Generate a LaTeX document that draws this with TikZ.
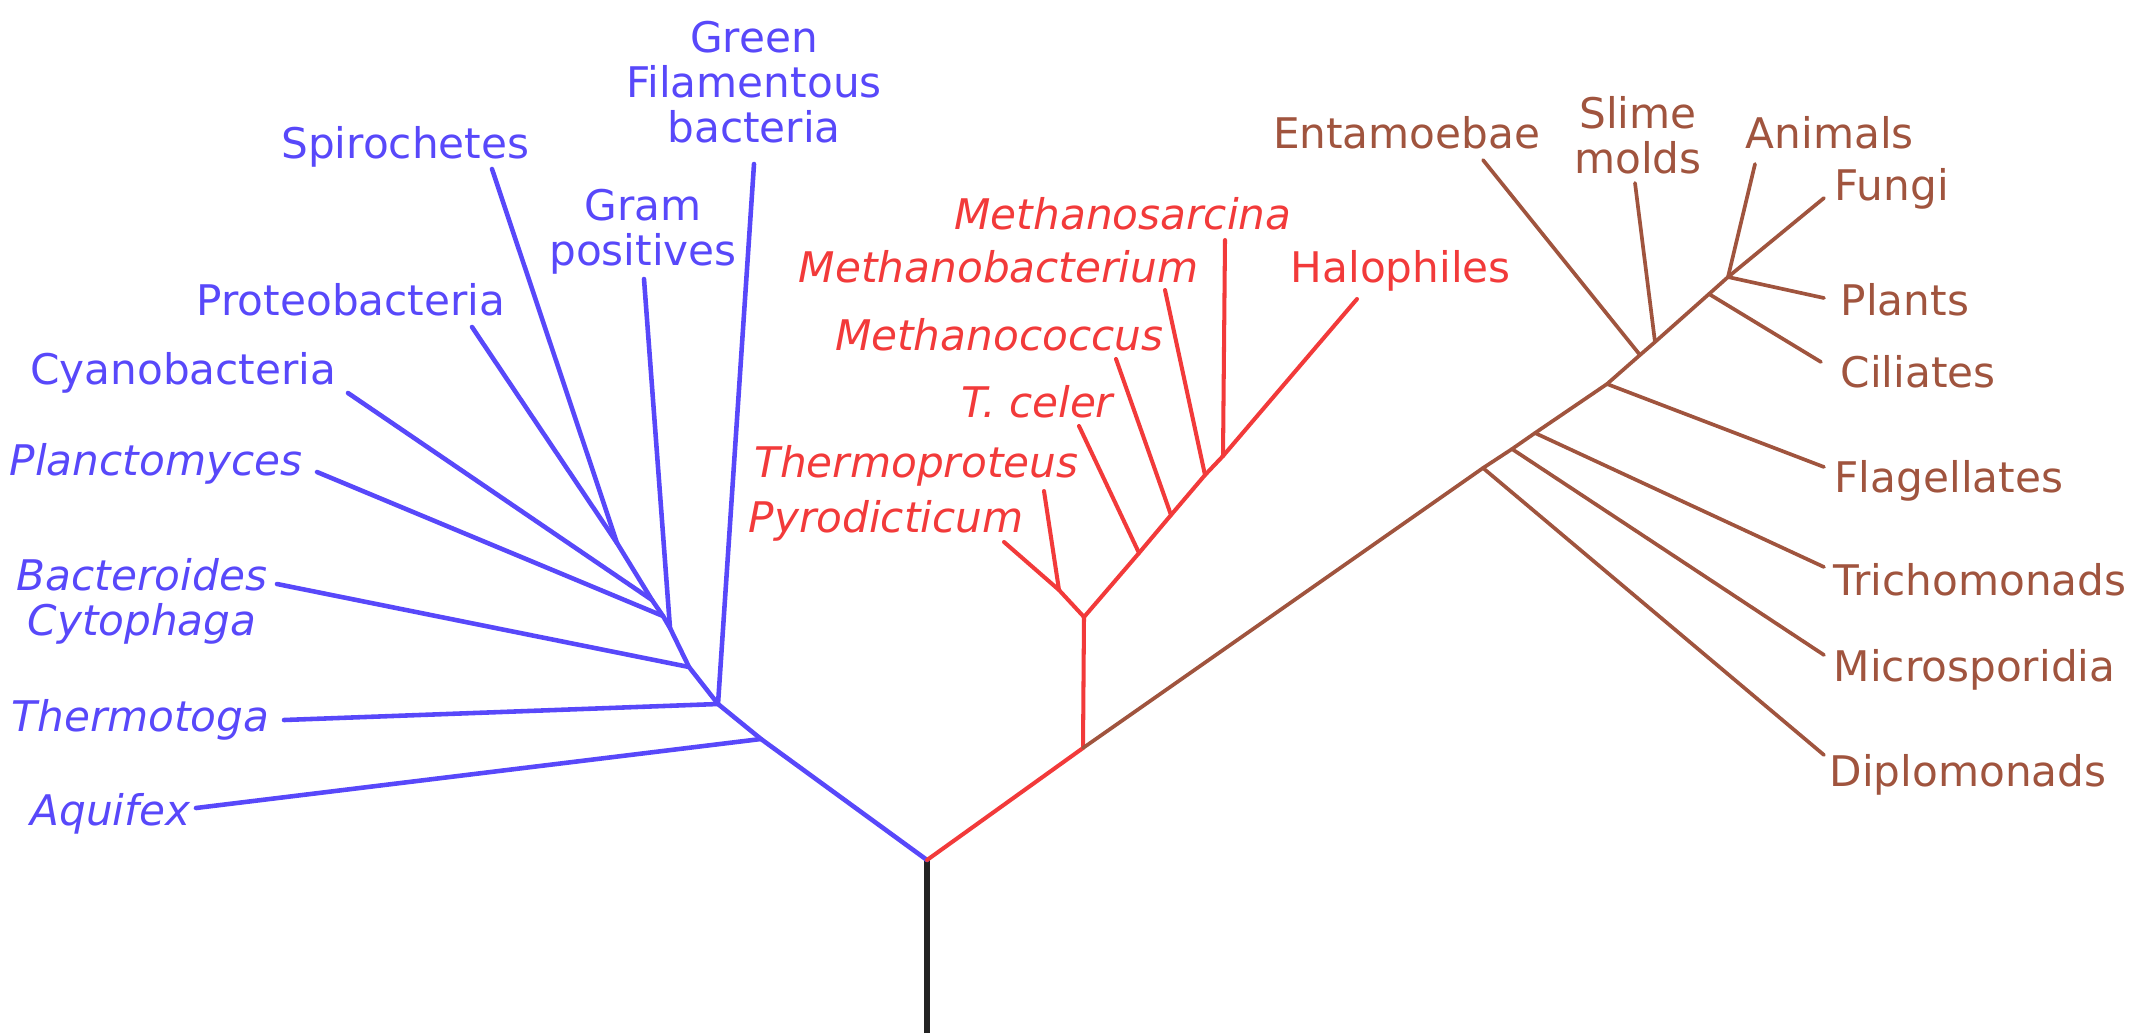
\documentclass[tikz,border=0pt]{standalone}
\usepackage{fontspec}
\setmainfont{DejaVu Sans}
\usepackage{tikz}
\usepackage{xcolor}
\definecolor{bactblue}{RGB}{88,72,250}
\definecolor{archred}{RGB}{242,58,58}
\definecolor{eukbrown}{RGB}{160,84,62}
\definecolor{rootgray}{RGB}{35,35,35}

\begin{document}
\begin{tikzpicture}[
  x=0.01cm, y=-0.01cm,
  taxon/.style={inner sep=0pt, align=center, font=\fontsize{12}{12.8}\selectfont},
  taxonit/.style={inner sep=0pt, align=center, font=\fontsize{12}{12.8}\selectfont\itshape},
  blab/.style={taxon, text=bactblue},
  blabit/.style={taxonit, text=bactblue},
  rlab/.style={taxon, text=archred},
  rlabit/.style={taxonit, text=archred},
  elab/.style={taxon, text=eukbrown},
  bact/.style={line width=1.3pt, bactblue, line cap=round, line join=round},
  arch/.style={line width=1.15pt, archred, line cap=round, line join=round},
  euk/.style={line width=1.05pt, eukbrown, line cap=round, line join=round},
  stem/.style={line width=1.5pt, rootgray}
]
\useasboundingbox (0,0) rectangle (2142,1033);

% Root
\coordinate (base) at (927,1033);
\coordinate (root) at (927,860);

% Bacteria junctions
\coordinate (bAq) at (761,739);
\coordinate (bTt) at (718,704);
\coordinate (bBc) at (689,667);
\coordinate (bGp) at (670,628);
\coordinate (bPl) at (663,616);
\coordinate (bCy) at (652,600);
\coordinate (bSP) at (617,543);

% Bacteria tips
\coordinate (tSpi) at (492,169);
\coordinate (tPro) at (472,327);
\coordinate (tCya) at (348,393);
\coordinate (tPla) at (317,472);
\coordinate (tGra) at (644,279);
\coordinate (tGfb) at (754,164);
\coordinate (tBac) at (277,584);
\coordinate (tThg) at (284,720);
\coordinate (tAqu) at (196,808);

% Archaea junctions
\coordinate (aR) at (1083,748);
\coordinate (aY) at (1084,617);
\coordinate (aTP) at (1059,590);
\coordinate (aTc) at (1139,553);
\coordinate (aMc) at (1171,515);
\coordinate (aMb) at (1205,475);
\coordinate (aMs) at (1223,456);

% Archaea tips
\coordinate (tPyr) at (1004,542);
\coordinate (tTpr) at (1044,491);
\coordinate (tTce) at (1079,426);
\coordinate (tMco) at (1116,359);
\coordinate (tMba) at (1165,290);
\coordinate (tMsa) at (1225,240);
\coordinate (tHal) at (1357,299);

% Eukarya junctions
\coordinate (eDi) at (1483,468);
\coordinate (eMi) at (1512,449);
\coordinate (eTr) at (1535,433);
\coordinate (eFl) at (1607,384);
\coordinate (eEn) at (1640,355);
\coordinate (eSl) at (1655,342);
\coordinate (eCi) at (1709,294);
\coordinate (eAn) at (1728,277);

% Eukarya tips
\coordinate (tEnt) at (1483,160);
\coordinate (tSli) at (1635,183);
\coordinate (tAni) at (1755,164);
\coordinate (tFun) at (1824,198);
\coordinate (tPlt) at (1824,298);
\coordinate (tCil) at (1821,362);
\coordinate (tFla) at (1824,467);
\coordinate (tTri) at (1824,567);
\coordinate (tMic) at (1824,655);
\coordinate (tDip) at (1824,755);

% Bacteria labels
\node[blab, anchor=base east] (spi) at (530,158) {Spirochetes};
\node[blab, anchor=base east] (pro) at (506,315) {Proteobacteria};
\node[blab, anchor=base east] (cya) at (337,384) {Cyanobacteria};
\node[blabit, anchor=base east] (pla) at (303,475) {Planctomyces};
\node[blab, anchor=north] (gra) at (643,188) {Gram\\positives};
\node[blab, anchor=north] (gfb) at (754,20) {Green\\Filamentous\\bacteria};
\node[blabit, anchor=north] (bac) at (142,558) {Bacteroides\\Cytophaga};
\node[blabit, anchor=base east] (thg) at (270,731) {Thermotoga};
\node[blabit, anchor=base east] (aqu) at (191,825) {Aquifex};

% Archaea labels
\node[rlabit, anchor=base east] (msa) at (1292,229) {Methanosarcina};
\node[rlabit, anchor=base east] (mba) at (1199,282) {Methanobacterium};
\node[rlabit, anchor=base east] (mco) at (1164,350) {Methanococcus};
\node[rlabit, anchor=base east] (tce) at (1114,417) {T. celer};
\node[rlabit, anchor=base east] (tpr) at (1079,477) {Thermoproteus};
\node[rlabit, anchor=base east] (pyr) at (1024,532) {Pyrodicticum};
\node[rlab, anchor=base west] (hal) at (1290,282) {Halophiles};

% Eukarya labels
\node[elab, anchor=base east] (ent) at (1541,148) {Entamoebae};
\node[elab, anchor=north] (sli) at (1638,96) {Slime\\molds};
\node[elab, anchor=base west] (ani) at (1745,148) {Animals};
\node[elab, anchor=base west] (fun) at (1834,200) {Fungi};
\node[elab, anchor=base west] (plt) at (1840,315) {Plants};
\node[elab, anchor=base west] (cil) at (1840,387) {Ciliates};
\node[elab, anchor=base west] (fla) at (1834,492) {Flagellates};
\node[elab, anchor=base west] (tri) at (1833,595) {Trichomonads};
\node[elab, anchor=base west] (mic) at (1833,681) {Microsporidia};
\node[elab, anchor=base west] (dip) at (1829,786) {Diplomonads};

% Stem
\draw[stem] (base) -- (root);

% Bacteria
\draw[bact] (root) -- (bAq) -- (bTt) -- (bBc) -- (bGp) -- (bPl) -- (bCy) -- (bSP);
\draw[bact] (bSP) -- (tSpi);
\draw[bact] (bSP) -- (tPro);
\draw[bact] (bCy) -- (tCya);
\draw[bact] (bPl) -- (tPla);
\draw[bact] (bGp) -- (tGra);
\draw[bact] (bBc) -- (tBac);
\draw[bact] (bTt) -- (tGfb);
\draw[bact] (bTt) -- (tThg);
\draw[bact] (bAq) -- (tAqu);

% Archaea
\draw[arch] (root) -- (aR) -- (aY);
\draw[arch] (aY) -- (aTP) -- (tPyr);
\draw[arch] (aTP) -- (tTpr);
\draw[arch] (aY) -- (aTc) -- (aMc) -- (aMb) -- (aMs) -- (tHal);
\draw[arch] (aTc) -- (tTce);
\draw[arch] (aMc) -- (tMco);
\draw[arch] (aMb) -- (tMba);
\draw[arch] (aMs) -- (tMsa);

% Eukarya
\draw[euk] (aR) -- (eDi) -- (eMi) -- (eTr) -- (eFl) -- (eEn) -- (eSl) -- (eCi) -- (eAn);
\draw[euk] (eDi) -- (tDip);
\draw[euk] (eMi) -- (tMic);
\draw[euk] (eTr) -- (tTri);
\draw[euk] (eFl) -- (tFla);
\draw[euk] (eEn) -- (tEnt);
\draw[euk] (eSl) -- (tSli);
\draw[euk] (eCi) -- (tCil);
\draw[euk] (eAn) -- (tAni);
\draw[euk] (eAn) -- (tFun);
\draw[euk] (eAn) -- (tPlt);
\end{tikzpicture}
\end{document}
